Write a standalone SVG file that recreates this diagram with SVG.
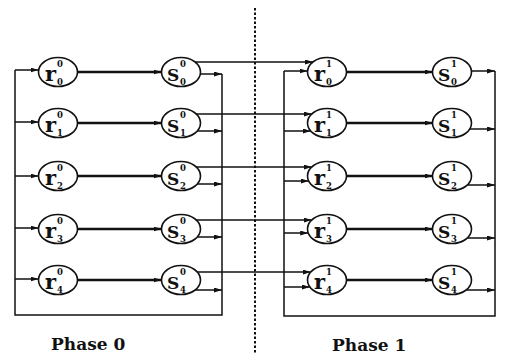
<svg xmlns="http://www.w3.org/2000/svg" width="517" height="354" viewBox="0 0 517 354">
<style>
.bg{fill:#fff}
.node ellipse{fill:#fff;stroke:#111;stroke-width:1.6}
.lbl{font-family:"DejaVu Serif","Liberation Serif",serif;font-weight:bold;fill:#111}
.big{font-size:21px}
.bigS{font-size:17px}
.sm{font-size:8.5px}
.ln{stroke:#111;stroke-width:1.5;fill:none}
.thick{stroke:#111;stroke-width:2.6;fill:none}
.arr{marker-end:url(#ah)}
.dash{stroke:#111;stroke-width:2;stroke-dasharray:2.5 2;fill:none}
.phase{font-family:"DejaVu Serif","Liberation Serif",serif;font-weight:bold;font-size:17px;fill:#111}
</style>
<defs>
<marker id="ah" markerUnits="userSpaceOnUse" markerWidth="9" markerHeight="6" refX="8" refY="2.5" orient="auto">
<path d="M0,0 L8,2.5 L0,5 z" fill="#111"/>
</marker>
</defs>
<rect class="bg" x="0" y="0" width="517" height="354"/>

<g id="connectors">
<!-- phase 0 feedback loop -->
<polyline class="ln" points="222,74 222,315 15,315 15,70"/>
<!-- inputs to r^0 -->
<line class="ln arr" x1="15" y1="70" x2="38.5" y2="70"/>
<line class="ln arr" x1="15" y1="122" x2="38.5" y2="122"/>
<line class="ln arr" x1="15" y1="176" x2="38.5" y2="176"/>
<line class="ln arr" x1="15" y1="228" x2="38.5" y2="228"/>
<line class="ln arr" x1="15" y1="279" x2="38.5" y2="279"/>
<!-- r^0 -> s^0 -->
<line class="thick arr" x1="77.5" y1="72" x2="161.5" y2="72"/>
<line class="thick arr" x1="77.5" y1="123" x2="161.5" y2="123"/>
<line class="thick arr" x1="77.5" y1="176" x2="161.5" y2="176"/>
<line class="thick arr" x1="77.5" y1="229" x2="161.5" y2="229"/>
<line class="thick arr" x1="77.5" y1="280" x2="161.5" y2="280"/>
<!-- s^0 -> r^1 -->
<line class="ln arr" x1="195" y1="62" x2="313" y2="62"/>
<line class="ln arr" x1="196" y1="114" x2="311.7" y2="114"/>
<line class="ln arr" x1="196" y1="167" x2="311.7" y2="167"/>
<line class="ln arr" x1="196" y1="220" x2="311.7" y2="220"/>
<line class="ln arr" x1="197" y1="272" x2="310.7" y2="272"/>
<!-- s^0 -> loop -->
<line class="ln arr" x1="200.3" y1="74" x2="222" y2="74"/>
<line class="ln arr" x1="197.3" y1="131" x2="222" y2="131"/>
<line class="ln arr" x1="197.3" y1="184" x2="222" y2="184"/>
<line class="ln arr" x1="197.3" y1="237" x2="222" y2="237"/>
<line class="ln arr" x1="195.1" y1="290" x2="222" y2="290"/>

<!-- phase 1 feedback loop -->
<polyline class="ln" points="495,71 495,316 284,316 284,71"/>
<!-- loop inputs to r^1 -->
<line class="ln arr" x1="284" y1="71" x2="307.5" y2="71"/>
<line class="ln arr" x1="284" y1="131" x2="310.7" y2="131"/>
<line class="ln arr" x1="284" y1="181" x2="308.7" y2="181"/>
<line class="ln arr" x1="284" y1="233" x2="308.2" y2="233"/>
<line class="ln arr" x1="284" y1="287" x2="309.9" y2="287"/>
<!-- r^1 -> s^1 -->
<line class="thick arr" x1="346.5" y1="72" x2="432.5" y2="72"/>
<line class="thick arr" x1="346.5" y1="123" x2="432.5" y2="123"/>
<line class="thick arr" x1="346.5" y1="176" x2="432.5" y2="176"/>
<line class="thick arr" x1="346.5" y1="229" x2="432.5" y2="229"/>
<line class="thick arr" x1="346.5" y1="280" x2="432.5" y2="280"/>
<!-- s^1 -> loop -->
<line class="ln arr" x1="471.5" y1="71" x2="495" y2="71"/>
<line class="ln arr" x1="469.7" y1="129" x2="495" y2="129"/>
<line class="ln arr" x1="467.3" y1="185" x2="495" y2="185"/>
<line class="ln arr" x1="467.3" y1="238" x2="495" y2="238"/>
<line class="ln arr" x1="466.1" y1="290" x2="495" y2="290"/>
</g>

<line class="dash" x1="255" y1="8" x2="255" y2="354"/>

<!-- Phase 0 nodes -->
<g id="r0_0" class="node"><ellipse cx="58" cy="72" rx="19.5" ry="14.5"/><text class="lbl big" x="45" y="81">r</text><text class="lbl sm" x="57" y="67">0</text><text class="lbl sm" x="57" y="85">0</text></g>
<g id="r0_1" class="node"><ellipse cx="58" cy="123" rx="19.5" ry="14.5"/><text class="lbl big" x="45" y="132">r</text><text class="lbl sm" x="57" y="118">0</text><text class="lbl sm" x="57" y="136">1</text></g>
<g id="r0_2" class="node"><ellipse cx="58" cy="176" rx="19.5" ry="14.5"/><text class="lbl big" x="45" y="185">r</text><text class="lbl sm" x="57" y="171">0</text><text class="lbl sm" x="57" y="189">2</text></g>
<g id="r0_3" class="node"><ellipse cx="58" cy="229" rx="19.5" ry="14.5"/><text class="lbl big" x="45" y="238">r</text><text class="lbl sm" x="57" y="224">0</text><text class="lbl sm" x="57" y="242">3</text></g>
<g id="r0_4" class="node"><ellipse cx="58" cy="280" rx="19.5" ry="14.5"/><text class="lbl big" x="45" y="289">r</text><text class="lbl sm" x="57" y="275">0</text><text class="lbl sm" x="57" y="293">4</text></g>

<g id="s0_0" class="node"><ellipse cx="181" cy="72" rx="19.5" ry="14.5"/><text class="lbl bigS" x="167" y="81">S</text><text class="lbl sm" x="180" y="67">0</text><text class="lbl sm" x="180" y="85">0</text></g>
<g id="s0_1" class="node"><ellipse cx="181" cy="123" rx="19.5" ry="14.5"/><text class="lbl bigS" x="167" y="132">S</text><text class="lbl sm" x="180" y="118">0</text><text class="lbl sm" x="180" y="136">1</text></g>
<g id="s0_2" class="node"><ellipse cx="181" cy="176" rx="19.5" ry="14.5"/><text class="lbl bigS" x="167" y="185">S</text><text class="lbl sm" x="180" y="171">0</text><text class="lbl sm" x="180" y="189">2</text></g>
<g id="s0_3" class="node"><ellipse cx="181" cy="229" rx="19.5" ry="14.5"/><text class="lbl bigS" x="167" y="238">S</text><text class="lbl sm" x="180" y="224">0</text><text class="lbl sm" x="180" y="242">3</text></g>
<g id="s0_4" class="node"><ellipse cx="181" cy="280" rx="19.5" ry="14.5"/><text class="lbl bigS" x="167" y="289">S</text><text class="lbl sm" x="180" y="275">0</text><text class="lbl sm" x="180" y="293">4</text></g>

<!-- Phase 1 nodes -->
<g id="r1_0" class="node"><ellipse cx="327" cy="72" rx="19.5" ry="14.5"/><text class="lbl big" x="314" y="81">r</text><text class="lbl sm" x="326" y="67">1</text><text class="lbl sm" x="326" y="85">0</text></g>
<g id="r1_1" class="node"><ellipse cx="327" cy="123" rx="19.5" ry="14.5"/><text class="lbl big" x="314" y="132">r</text><text class="lbl sm" x="326" y="118">1</text><text class="lbl sm" x="326" y="136">1</text></g>
<g id="r1_2" class="node"><ellipse cx="327" cy="176" rx="19.5" ry="14.5"/><text class="lbl big" x="314" y="185">r</text><text class="lbl sm" x="326" y="171">1</text><text class="lbl sm" x="326" y="189">2</text></g>
<g id="r1_3" class="node"><ellipse cx="327" cy="229" rx="19.5" ry="14.5"/><text class="lbl big" x="314" y="238">r</text><text class="lbl sm" x="326" y="224">1</text><text class="lbl sm" x="326" y="242">3</text></g>
<g id="r1_4" class="node"><ellipse cx="327" cy="280" rx="19.5" ry="14.5"/><text class="lbl big" x="314" y="289">r</text><text class="lbl sm" x="326" y="275">1</text><text class="lbl sm" x="326" y="293">4</text></g>

<g id="s1_0" class="node"><ellipse cx="452" cy="72" rx="19.5" ry="14.5"/><text class="lbl bigS" x="438" y="81">S</text><text class="lbl sm" x="451" y="67">1</text><text class="lbl sm" x="451" y="85">0</text></g>
<g id="s1_1" class="node"><ellipse cx="452" cy="123" rx="19.5" ry="14.5"/><text class="lbl bigS" x="438" y="132">S</text><text class="lbl sm" x="451" y="118">1</text><text class="lbl sm" x="451" y="136">1</text></g>
<g id="s1_2" class="node"><ellipse cx="452" cy="176" rx="19.5" ry="14.5"/><text class="lbl bigS" x="438" y="185">S</text><text class="lbl sm" x="451" y="171">1</text><text class="lbl sm" x="451" y="189">2</text></g>
<g id="s1_3" class="node"><ellipse cx="452" cy="229" rx="19.5" ry="14.5"/><text class="lbl bigS" x="438" y="238">S</text><text class="lbl sm" x="451" y="224">1</text><text class="lbl sm" x="451" y="242">3</text></g>
<g id="s1_4" class="node"><ellipse cx="452" cy="280" rx="19.5" ry="14.5"/><text class="lbl bigS" x="438" y="289">S</text><text class="lbl sm" x="451" y="275">1</text><text class="lbl sm" x="451" y="293">4</text></g>

<text class="phase" x="51" y="350">Phase 0</text>
<text class="phase" x="332" y="351">Phase 1</text>
</svg>
